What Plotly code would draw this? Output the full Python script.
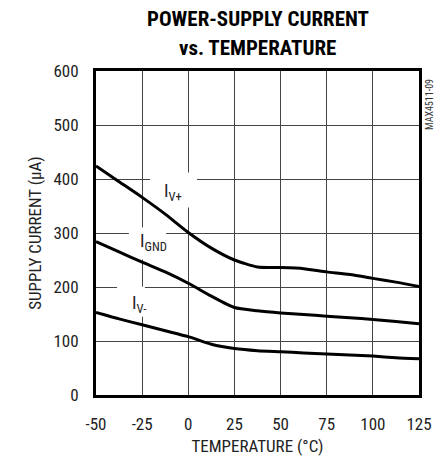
import plotly.graph_objects as go

# ---- data ----
temps = [-50, -37.5, -25, -12.5, 0, 12.5, 25, 37.5, 50, 62.5, 75, 87.5, 100, 112.5, 125]
i_vplus = [424, 395, 366, 335, 301, 272, 250, 237, 236, 234, 228, 223, 216, 209, 201]
i_gnd = [284, 265, 246, 228, 207, 183, 162, 156, 152, 149, 146, 143, 140, 136, 132]
i_vminus = [153, 141, 130, 119, 108, 94, 86, 82, 80, 78, 76, 74, 72, 69, 67]

x_ticks = [-50, -25, 0, 25, 50, 75, 100, 125]
x_ticktext = ["-50", "-25", "0", "25", "50", "75", "100", "125"]
y_ticks = [0, 100, 200, 300, 400, 500, 600]
y_ticktext = ["0", "100", "200", "300", "400", "500", "600"]

# curve labels: text, x, y, and white mask box (x0, x1, y0, y1)
label_text = ["I<sub>V+</sub>", "I<sub>GND</sub>", "I<sub>V-</sub>"]
label_x = [-8.3, -18.6, -26.7]
label_y = [376, 284, 169]
mask_boxes = [(-20.7, 4.7, 347, 412), (-32.2, -12.0, 251, 310), (-38.6, -23.5, 145, 200.6)]

title_lines = ["POWER-SUPPLY CURRENT", "vs. TEMPERATURE"]

FONT = "Roboto Condensed, Liberation Sans Narrow, sans-serif"

fig = go.Figure()
for ys in (i_vplus, i_gnd, i_vminus):
    fig.add_trace(go.Scatter(x=temps, y=ys, mode="lines",
                             line=dict(color="black", width=3, shape="spline", smoothing=0.6),
                             showlegend=False, hoverinfo="skip"))

for (x0, x1, y0, y1) in mask_boxes:
    fig.add_shape(type="rect", x0=x0, x1=x1, y0=y0, y1=y1, xref="x", yref="y",
                  fillcolor="white", line=dict(width=0), layer="between")

for t, x, y in zip(label_text, label_x, label_y):
    fig.add_annotation(x=x, y=y, text=t, showarrow=False, xref="x", yref="y",
                       font=dict(family=FONT, size=18, color="#222"))

# title (two centred bold lines)
for k, line in enumerate(title_lines):
    fig.add_annotation(x=0.5, y=1.0, xref="paper", yref="paper", xanchor="center",
                       yanchor="middle", yshift=52 - 29 * k, showarrow=False,
                       text="<b>" + line + "</b>",
                       font=dict(family=FONT, size=21, color="black"))

fig.add_annotation(x=1.0, y=1.0, xref="paper", yref="paper", xanchor="left", yanchor="top",
                   xshift=3, yshift=-6, text="MAX4511-09", textangle=-90, showarrow=False,
                   font=dict(family=FONT, size=10, color="#333"))

fig.update_layout(
    width=441, height=456,
    margin=dict(l=96, r=22, t=71, b=61, autoexpand=False),
    paper_bgcolor="white", plot_bgcolor="white",
    font=dict(family=FONT, size=17, color="#222"),
)
fig.update_xaxes(range=[-50, 125], tickvals=x_ticks, ticktext=x_ticktext, ticks="",
                 showline=True, linewidth=3, linecolor="black", mirror=True,
                 showgrid=True, gridcolor="#444", gridwidth=1, zeroline=False,
                 ticklabelstandoff=12, automargin=False,
                 title=dict(text="TEMPERATURE (°C)", standoff=9, font=dict(size=17)))
fig.update_yaxes(range=[0, 600], tickvals=y_ticks, ticktext=y_ticktext, ticks="",
                 showline=True, linewidth=3, linecolor="black", mirror=True,
                 showgrid=True, gridcolor="#444", gridwidth=1, zeroline=False,
                 ticklabelstandoff=11, automargin=False,
                 title=dict(text="SUPPLY CURRENT (µA)", standoff=8, font=dict(size=17)))

fig.write_html("out.html", config={"displayModeBar": False},
               post_script="document.body.style.margin='0';document.body.style.overflow='hidden';")
